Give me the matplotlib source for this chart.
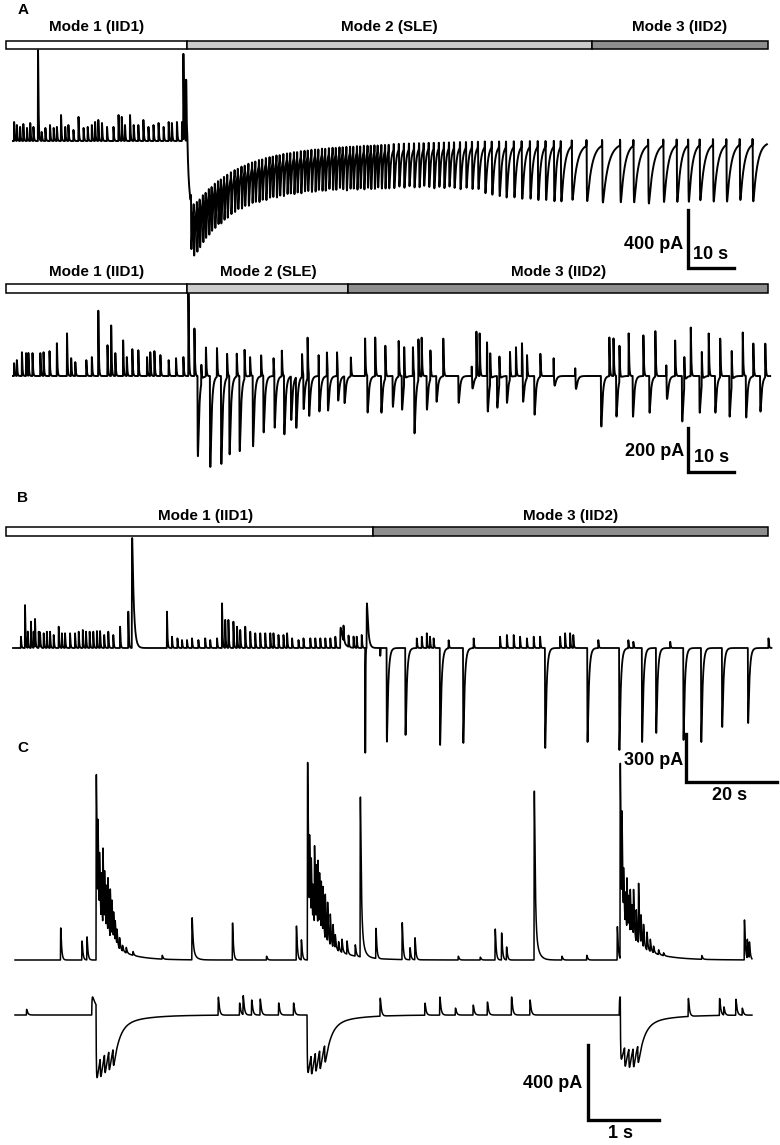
import numpy as np
import matplotlib
matplotlib.use("Agg")
import matplotlib.pyplot as plt
import matplotlib.transforms as mtransforms

plt.rcParams["font.family"] = ["Liberation Sans", "DejaVu Sans"]
plt.rcParams["font.weight"] = "bold"

# ---------------- data (times in s, currents in pA) ----------------
# A, upper trace: interictal spikes of mode 1
a1_spike_t = [0.2, 0.8, 1.5, 2.2, 3.0, 3.7, 4.4, 5.4, 6.2, 7.0, 8.0, 8.8, 9.5,
              10.4, 11.3, 12.0, 13.1, 14.2, 15.3, 16.2, 17.1, 17.8, 18.5, 19.3,
              20.4, 21.8, 22.9, 23.6, 24.3, 25.4, 26.2, 27.2, 28.3, 29.4, 30.5,
              31.6, 32.7, 33.8, 34.5, 35.6, 36.7, 37.0, 37.6]
a1_spike_amp = [131, 110, 97, 117, 90, 124, 97, 628, 62, 90, 110, 90, 97,
                179, 97, 110, 76, 166, 90, 97, 110, 131, 145, 124, 97, 97,
                179, 166, 110, 179, 110, 110, 145, 97, 110, 124, 97, 131,
                124, 131, 131, 593, 421]
# slow inward shift at seizure onset
a1_sle_t = [37.9, 37.9]
a1_sle_amp = [-345, -104]
a1_sle_tau = [9.0, 45.0]
# discharges during SLE and mode 3 (depth in pA)
a1_iid_t = [38.7, 39.3, 40.0, 40.6, 41.3, 41.9, 42.6, 43.2, 43.9, 44.6, 45.2, 45.9,
            46.6, 47.4, 48.2, 48.9, 49.7, 50.4, 51.2, 52.0, 52.7, 53.5, 54.2, 55.0,
            55.8, 56.5, 57.3, 58.0, 58.8, 59.6, 60.3, 61.1, 61.8, 62.6, 63.4, 64.1,
            64.9, 65.7, 66.4, 67.2, 67.9, 68.7, 69.5, 70.2, 71.0, 71.7, 72.5, 73.3,
            74.0, 74.8, 75.5, 76.3, 77.1, 77.8, 78.6, 79.3, 80.1, 80.9, 81.7,
            82.8, 83.9, 85.0, 86.1, 87.2, 88.3, 89.3, 90.4, 91.5, 92.6, 93.7, 94.8,
            95.9, 97.2, 98.5, 99.8, 101.1,
            102.6, 104.1, 105.7, 107.2, 108.9, 110.6, 112.4, 114.1, 115.8, 117.6, 119.1,
            121.5, 124.7, 128.1, 132.0, 134.9, 138.1, 141.4, 144.3, 146.8, 149.3,
            152.2, 155.1, 158.0, 160.8]
a1_iid_depth = [330, 340, 330, 320, 310, 300, 300, 290, 290, 280, 290, 280, 280,
                270, 270, 260, 270, 260, 270, 260, 260, 270, 260, 270, 260, 260,
                270, 260, 270, 260, 260, 270, 260, 270, 260, 260, 270, 270, 260,
                270, 270, 260, 270, 270, 260, 270, 280, 270, 270, 280, 270, 280,
                270, 280, 280, 270, 280, 280, 280,
                280, 270, 280, 270, 280, 280, 270, 280, 290, 280, 290, 280, 290,
                300, 290, 300, 300,
                330, 340, 350, 360, 360, 370, 370, 380, 380, 390, 390,
                380, 390, 400, 400, 400, 410, 400, 400, 400, 390, 400, 400, 390, 400]
a1_iid_up = 40

# A, lower trace
a2_up_t = [0.2, 0.8, 1.9, 2.8, 3.3, 4.2, 5.9, 6.6, 7.9, 9.5, 11.7, 12.6, 13.5,
           15.9, 17.1, 18.5, 20.5, 21.3, 22.2, 23.9, 24.7, 25.9, 27.2, 29.1,
           29.8, 30.7, 32.0, 33.8, 35.4, 37.0, 38.1,
           39.4, 40.9, 41.9, 44.3, 46.5, 48.6, 50.3, 51.5, 53.9, 56.6, 58.4,
           62.8, 64.0, 66.4, 68.2, 70.4, 73.4, 76.5, 78.7, 80.9, 83.8, 85.0,
           86.9, 88.1, 88.8, 90.7, 93.5, 99.7, 100.7, 101.4, 103.0, 103.7,
           105.7, 108.0, 109.3, 110.6, 111.7, 114.6, 117.5, 122.2, 129.6,
           130.5, 131.8, 133.8, 137.0, 139.6, 142.0, 143.9, 145.9, 147.3,
           149.7, 151.2, 153.7, 156.2, 158.6, 160.9, 163.5]
a2_up_amp = [58, 72, 108, 104, 104, 104, 104, 108, 113, 149, 194, 81, 63,
             72, 86, 297, 140, 230, 104, 162, 86, 122, 117, 86, 108, 113,
             95, 72, 81, 86, 374,
             216, 86, 131, 131, 108, 104, 131, 86, 95, 81, 117, 104, 185,
             95, 108, 108, 86, 171, 176, 149, 162, 171, 131, 185, 176, 131,
             171, 117, 207, 194, 153, 140, 126, 126, 131, 149, 104, 104, 153,
             108, 176, 171, 162, 194, 185, 207, 171, 162, 140, 221, 153, 194,
             176, 162, 198, 149, 153]
a2_down_t = [40.1, 42.8, 45.2, 47.0, 49.2, 52.1, 54.4, 56.8, 58.9, 60.4, 61.5,
             63.1, 64.3, 66.5, 68.4, 70.6, 72.0, 77.0, 80.0, 82.5, 84.5, 87.2,
             89.9, 92.0, 96.8, 99.7, 103.1, 105.2, 107.3, 110.8, 113.3, 117.5,
             122.2, 127.8, 131.1, 134.7, 138.3, 142.0, 145.4, 149.2, 152.6,
             155.7, 159.3, 162.4]
a2_down_amp = [365, 414, 400, 356, 342, 320, 257, 243, 266, 198, 230, 153,
               185, 185, 167, 122, 122, 167, 167, 140, 153, 266, 153, 117,
               122, 108, 198, 144, 122, 131, 176, 99, 108, 230, 185, 185,
               167, 185, 207, 167, 167, 185, 189, 162]

# B
b_spike_t = [1.7, 2.6, 3.2, 3.9, 4.5, 4.8, 5.6, 5.9, 6.7, 7.4, 8.1, 8.9, 10.0,
             10.7, 11.4, 12.5, 13.6, 14.4, 15.3, 16.0, 16.8, 17.6, 18.4, 19.1,
             20.0, 20.9, 22.0, 23.5, 25.3, 33.8, 34.9, 36.1, 37.1, 38.2, 39.3,
             40.7, 42.2, 43.3, 44.8, 45.9, 46.6, 47.3, 48.4, 49.2, 49.9, 51.0,
             52.1, 53.2, 54.3, 55.4, 56.5, 57.2, 58.3, 59.4, 60.2, 61.3, 62.7,
             63.8, 65.3, 66.4, 67.5, 68.6, 69.7, 70.8, 72.6, 73.7, 74.8, 75.5,
             76.6, 88.7, 89.8, 90.9, 91.6, 92.4, 95.7, 101.2, 107.0, 108.5,
             110.0, 111.4, 112.9, 114.4, 115.8, 120.2, 121.3, 122.4, 123.1,
             128.6, 135.2, 136.3, 144.4, 166.0]
b_spike_amp = [72, 274, 104, 168, 104, 179, 104, 94, 94, 104, 104, 83, 136,
               94, 94, 94, 94, 104, 115, 104, 104, 104, 108, 108, 83, 104, 83,
               136, 232, 232, 72, 62, 51, 51, 62, 51, 62, 51, 62, 285, 179,
               179, 168, 136, 115, 136, 104, 94, 94, 94, 94, 94, 83, 83, 94,
               62, 51, 62, 62, 62, 62, 62, 62, 72, 94, 72, 72, 72, 83,
               62, 72, 94, 72, 62, 51, 62, 72, 83, 83, 72, 62, 72, 72, 72,
               94, 94, 83, 51, 51, 40, 40, 62]
b_wide_t = [26.1, 71.9, 77.7]
b_wide_amp = [702, 130, 285]
b_wide_tau = [0.35, 0.6, 0.3]
b_sharp_t = [77.4, 80.7]
b_sharp_amp = [-670, -50]
b_iid_t = [82.1, 86.2, 93.8, 98.9, 116.9, 126.2, 133.2, 138.2, 141.3, 147.3,
           151.2, 155.8, 161.5]
b_iid_amp = [598, 555, 619, 606, 638, 600, 651, 600, 542, 587, 600, 504, 479]

# C, upper trace
c1_spike_t = [0.64, 0.94, 1.01, 1.141, 1.165, 1.187, 1.211, 1.235, 1.258, 1.282,
              1.306, 1.338, 1.362, 1.385, 1.408, 1.432, 1.469, 1.511, 1.563, 1.658,
              2.07, 2.49, 3.06, 3.54, 3.96, 4.03, 4.117, 4.145, 4.169, 4.193,
              4.215, 4.239, 4.263, 4.286, 4.310, 4.334, 4.366, 4.399, 4.437,
              4.475, 4.507, 4.554, 4.601, 4.672, 4.789, 4.86, 5.08, 5.45, 5.56,
              5.63, 6.24, 6.55, 6.76, 6.85, 6.92, 7.31, 7.70, 8.05, 8.48, 8.521,
              8.545, 8.568, 8.592, 8.615, 8.638, 8.662, 8.686, 8.708, 8.746,
              8.779, 8.813, 8.849, 8.897, 8.944, 8.990, 9.061, 9.131, 9.67,
              10.27, 10.31, 10.34]
c1_spike_amp = [171, 101, 123, 835, 430, 300, 250, 410, 270, 230, 290, 260, 190,
                140, 110, 80, 60, 30, 30, 20, 20, 170, 197, 20, 181, 107, 900,
                380, 300, 190, 420, 300, 350, 280, 260, 245, 240, 210, 165, 120,
                70, 50, 70, 70, 60, 700, 160, 197, 64, 117, 20, 15, 165, 144,
                69, 750, 20, 25, 178, 905, 480, 230, 170, 270, 170, 230, 150,
                245, 170, 320, 150, 120, 95, 65, 35, 25, 15, 20, 213, 101, 85]
c1_slow_t = [1.141, 2.49, 4.117, 4.86, 7.31, 8.521]
c1_slow_amp = [190, 60, 190, 170, 170, 170]
c1_slow_tau = [0.25, 0.04, 0.3, 0.04, 0.045, 0.3]

# C, lower trace
c2_up_t = [0.16, 2.86, 3.16, 3.21, 3.33, 3.45, 3.71, 3.92, 5.14, 5.77, 5.98,
           6.20, 6.45, 6.65, 6.99, 7.25, 9.48, 9.92, 9.98, 10.15, 10.24]
c2_up_amp = [30, 96, 64, 101, 80, 85, 64, 64, 96, 64, 96, 37, 53, 69, 96, 80,
             96, 90, 43, 85, 37]
c2_in_t = [1.08, 1.141, 1.20, 1.26, 1.32, 1.38, 4.113, 4.17, 4.23, 4.29, 4.36,
           8.51, 8.525, 8.585, 8.645, 8.705, 8.77]
c2_in_amp = [96, -267, -110, -110, -110, -100, -200, -110, -110, -110, -100,
             96, -210, -110, -110, -110, -100]
c2_slow_t = [1.141, 4.113, 8.525]
c2_slow_amp = [-117, -110, -110]

# mode annotations
a1_mode_edges = [-1.5, 37.8, 125.9, 164.1]
a2_mode_edges = [-1.5, 37.9, 72.9, 164.1]
b_mode_edges = [-1.5, 79.1, 165.9]
a_mode_labels = ["Mode 1 (IID1)", "Mode 2 (SLE)", "Mode 3 (IID2)"]
b_mode_labels = ["Mode 1 (IID1)", "Mode 3 (IID2)"]
mode_colors = {"Mode 1": "white", "Mode 2": "#cccccc", "Mode 3": "#8e8e8e"}


# ---------------- helpers ----------------
def psc(t, t0, amp, rise, decay):
    s = t - t0
    out = np.zeros_like(t)
    on = s > 0
    tp = rise * decay / (decay - rise) * np.log(decay / rise)
    peak = np.exp(-tp / decay) - np.exp(-tp / rise)
    out[on] = amp * (np.exp(-s[on] / decay) - np.exp(-s[on] / rise)) / peak
    return out


def summed(t, times, amps, rise, decay):
    decay = np.broadcast_to(np.asarray(decay, float), (len(times),))
    y = np.zeros_like(t)
    for t0, a, d in zip(times, amps, decay):
        y += psc(t, t0, a, rise, d)
    return y


W, H = 780, 1145
fig = plt.figure(figsize=(W / 100, H / 100), dpi=100)


def trace_axes(x0, ybase, px_per_s, pa_per_px, top, bottom):
    ax = fig.add_axes([0, 1 - bottom / H, 1, (bottom - top) / H])
    ax.set_xlim(-x0 / px_per_s, (W - x0) / px_per_s)
    ax.set_ylim((ybase - bottom) * pa_per_px, (ybase - top) * pa_per_px)
    ax.set_axis_off()
    ax.px = (x0, ybase, px_per_s, pa_per_px)
    return ax


def to_data(ax, x, y):
    x0, ybase, pps, ppp = ax.px
    return (x - x0) / pps, (ybase - y) * ppp


def mode_bar(ref_ax, top, bottom, edges, labels, label_y, label_x=None):
    bax = fig.add_axes([0, 1 - bottom / H, 1, (bottom - top) / H])
    bax.set_xlim(ref_ax.get_xlim())
    bax.set_ylim(-0.5, 0.5)
    bax.set_axis_off()
    left = np.array(edges[:-1])
    width = np.diff(edges)
    colors = [mode_colors[l[:6]] for l in labels]
    bax.barh(0, width, left=left, height=1, color=colors, edgecolor="black",
             linewidth=1.1, clip_on=False)
    ly = (bottom - label_y) / (bottom - top) - 0.5
    centers = left + width / 2 if label_x is None else label_x
    for cx, lab in zip(centers, labels):
        bax.text(cx, ly, lab, ha="center", va="center", fontsize=11,
                 fontweight="bold")


def scale_bar(ax, corner_px, dt, di, ylab, xlab, ylab_off, xlab_off, xlab_ha="left"):
    t0, i0 = to_data(ax, *corner_px)
    ax.plot([t0, t0, t0 + dt], [i0 + di, i0, i0], color="black", lw=2.4,
            solid_capstyle="projecting", solid_joinstyle="miter", clip_on=False)
    tr = mtransforms.offset_copy(ax.transData, fig=fig, x=ylab_off[0],
                                 y=ylab_off[1], units="dots")
    ax.text(t0, i0, ylab, transform=tr, ha="right", va="center", fontsize=13,
            fontweight="bold")
    tr = mtransforms.offset_copy(ax.transData, fig=fig, x=xlab_off[0],
                                 y=xlab_off[1], units="dots")
    ax.text(t0, i0, xlab, transform=tr, ha=xlab_ha, va="center", fontsize=13,
            fontweight="bold")


# ---------------- A, upper ----------------
ax = trace_axes(13, 141, 4.6, 6.9, 40, 280)
t = np.arange(0, 163.9, 0.01)
i = summed(t, a1_spike_t, a1_spike_amp, 0.02, 0.1)
i += summed(t, a1_sle_t, a1_sle_amp, 0.4, a1_sle_tau)
gaps = np.diff(a1_iid_t, append=a1_iid_t[-1] + 3.0)
i += summed(t, a1_iid_t, -np.array(a1_iid_depth, float), 0.04, 0.3 * gaps)
i += summed(t, np.array(a1_iid_t) - 0.08, np.full(len(a1_iid_t), a1_iid_up), 0.02, 0.08)
ax.plot(t, i, color="black", lw=1.4, clip_on=False)
mode_bar(ax, 40.5, 48.5, a1_mode_edges, a_mode_labels, 27.5)
scale_bar(ax, (688, 267.5), 10, 400, "400 pA", "10 s", (-5, 23), (5, 13))

# ---------------- A, lower ----------------
ax = trace_axes(13, 376, 4.6, 4.55, 290, 490)
t = np.arange(0, 164.6, 0.01)
i = summed(t, a2_up_t, a2_up_amp, 0.02, 0.1)
i += summed(t, a2_down_t, -np.array(a2_down_amp, float), 0.04, 0.3)
ax.plot(t, i, color="black", lw=1.4, clip_on=False)
mode_bar(ax, 284, 292.5, a2_mode_edges, a_mode_labels, 272)
scale_bar(ax, (688, 472), 10, 200, "200 pA", "10 s", (-4, 20), (6, 14))

# ---------------- B ----------------
ax = trace_axes(13, 648, 4.55, 6.38, 530, 800)
t = np.arange(0, 166.7, 0.01)
i = summed(t, b_spike_t, b_spike_amp, 0.02, 0.1)
i += summed(t, b_wide_t, b_wide_amp, 0.04, b_wide_tau)
i += summed(t, b_sharp_t, b_sharp_amp, 0.01, 0.04)
i += summed(t, b_iid_t, -np.array(b_iid_amp, float), 0.03, 0.3)
ax.plot(t, i, color="black", lw=1.3, clip_on=False)
mode_bar(ax, 527.5, 536, b_mode_edges, b_mode_labels, 516,
         label_x=[42.4, 122.5])
scale_bar(ax, (686, 781.5), 20, 300, "300 pA", "20 s", (-3, 21), (44, -14),
          xlab_ha="center")

# ---------------- C, upper ----------------
ax = trace_axes(15, 960, 71, 5.33, 740, 980)
t = np.arange(0, 10.38, 0.0005)
i = summed(t, c1_spike_t, c1_spike_amp, 0.002, 0.012)
i += summed(t, c1_slow_t, c1_slow_amp, 0.003, c1_slow_tau)
ax.plot(t, i, color="black", lw=1.1, clip_on=False)

# ---------------- C, lower ----------------
ax = trace_axes(15, 1015, 71, 5.33, 985, 1145)
t = np.arange(0, 10.38, 0.0005)
i = summed(t, c2_up_t, c2_up_amp, 0.002, 0.015)
i += summed(t, c2_in_t, c2_in_amp, 0.004, 0.08)
i += summed(t, c2_slow_t, c2_slow_amp, 0.005, 0.35)
ax.plot(t, i, color="black", lw=1.1, clip_on=False)
scale_bar(ax, (587.5, 1120), 1, 400, "400 pA", "1 s", (-5, 36), (33, -14),
          xlab_ha="center")

# panel letters
for letter, (x, y) in {"A": (18, 10), "B": (17, 498), "C": (17, 748)}.items():
    fig.text(x / W, 1 - y / H, letter, fontsize=11, fontweight="bold",
             ha="left", va="center")

fig.savefig("out.png", dpi=100)
